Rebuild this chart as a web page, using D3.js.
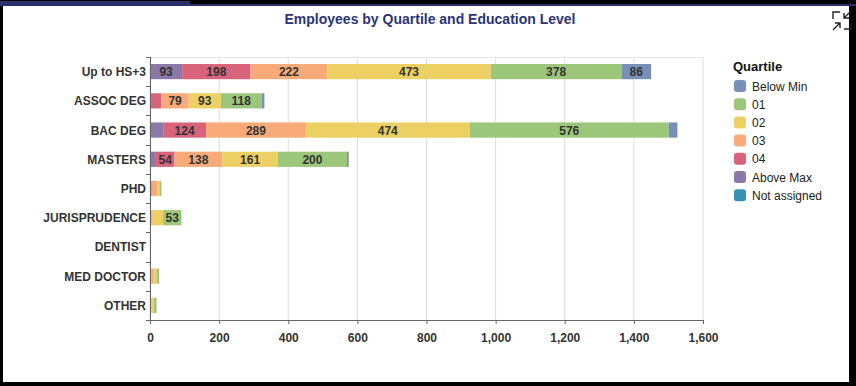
<!DOCTYPE html>
<html>
<head>
<meta charset="utf-8">
<script src="https://cdn.jsdelivr.net/npm/d3@7"></script>
<style>
  html, body { margin: 0; padding: 0; background: #000; }
  svg { display: block; }
</style>
</head>
<body>
<svg id="chart" width="856" height="386"></svg>
<script>
// categories (top to bottom)
const education = ['Up to HS+3', 'ASSOC DEG', 'BAC DEG', 'MASTERS', 'PHD', 'JURISPRUDENCE', 'DENTIST', 'MED DOCTOR', 'OTHER'];

// legend order
const quartiles = ['Below Min', '01', '02', '03', '04', 'Above Max', 'Not assigned'];
const quartileColors = ['#7890b8', '#9cc77a', '#edd063', '#f8aa78', '#d8647b', '#8a78a8', '#3a90b4'];

// series values, one per education level
const belowMin    = [86, 8, 25, 5, 0, 0, 0, 0, 0];
const q01         = [378, 118, 576, 200, 5, 53, 0, 7, 8];
const q02         = [473, 93, 474, 161, 8, 30, 0, 8, 9];
const q03         = [222, 79, 289, 138, 15, 5, 1, 7, 2];
const q04         = [198, 30, 124, 54, 5, 3, 1, 4, 0];
const aboveMax    = [93, 3, 38, 17, 0, 0, 0, 0, 0];
const notAssigned = [0, 0, 0, 0, 0, 0, 0, 0, 0];

const xTicks = [0, 200, 400, 600, 800, 1000, 1200, 1400, 1600];

const seriesByKey = {
  'Below Min': belowMin, '01': q01, '02': q02, '03': q03, '04': q04,
  'Above Max': aboveMax, 'Not assigned': notAssigned
};

const rows = education.map((ed, i) => {
  const r = { education: ed };
  quartiles.forEach(q => r[q] = seriesByKey[q][i]);
  return r;
});

// stack from the left: not assigned, above max, 04 ... below min
const stackKeys = quartiles.slice().reverse();
const color = d3.scaleOrdinal().domain(quartiles).range(quartileColors);

const svg = d3.select('#chart');
const font = 'Arial, "Liberation Sans", sans-serif';

// frame / white panel
svg.append('rect').attr('x', 3).attr('y', 5).attr('width', 846).attr('height', 377).attr('fill', '#fff');
svg.append('rect').attr('x', 0).attr('y', 1).attr('width', 190).attr('height', 5).attr('fill', '#2b2f6b');
svg.append('rect').attr('x', 190).attr('y', 4).attr('width', 666).attr('height', 2).attr('fill', '#2b2f6b');

// title
svg.append('text')
  .attr('x', 430).attr('y', 24)
  .attr('text-anchor', 'middle')
  .attr('font-family', font).attr('font-weight', 'bold').attr('font-size', 14)
  .attr('fill', '#2b3478')
  .text('Employees by Quartile and Education Level');

// collapse icon top right
const icon = svg.append('g').attr('fill', 'none').attr('stroke', '#222').attr('stroke-width', 1.4);
icon.append('path').attr('d', 'M833,19 V12 H840');
icon.append('path').attr('d', 'M851,23 V29 H844');
icon.append('path').attr('d', 'M851,11 L844,18 M844,13 V18 H849');
icon.append('path').attr('d', 'M833,30 L840,23 M840,28 V23 H835');

const margin = { top: 57, left: 150 };
const plotW = 553, plotH = 263;

const x = d3.scaleLinear().domain([0, 1600]).range([margin.left, margin.left + plotW]);
const y = d3.scaleBand().domain(education)
  .range([margin.top, margin.top + plotH])
  .paddingInner(0.48).paddingOuter(0.24);

// gridlines
svg.append('g').selectAll('line').data(xTicks).enter().append('line')
  .attr('x1', d => x(d)).attr('x2', d => x(d))
  .attr('y1', margin.top).attr('y2', margin.top + plotH)
  .attr('stroke', '#dcdcdc');
svg.append('line')
  .attr('x1', margin.left).attr('x2', margin.left + plotW)
  .attr('y1', margin.top + 0.5).attr('y2', margin.top + 0.5)
  .attr('stroke', '#e6e6e6');

// bars
const stacked = d3.stack().keys(stackKeys)(rows);
const layers = svg.append('g').selectAll('g').data(stacked).enter().append('g')
  .attr('fill', d => color(d.key));
layers.selectAll('rect').data(d => d).enter().append('rect')
  .attr('x', d => x(d[0]))
  .attr('y', d => y(d.data.education))
  .attr('width', d => x(d[1]) - x(d[0]))
  .attr('height', y.bandwidth());

// segment labels
const labels = svg.append('g')
  .attr('font-family', font).attr('font-weight', 'bold').attr('font-size', 12)
  .attr('fill', '#333').attr('text-anchor', 'middle');
stacked.forEach(layer => {
  layer.forEach(d => {
    const v = d[1] - d[0];
    const w = x(d[1]) - x(d[0]);
    const tw = String(v).length * 6.7;
    if (v > 0 && w > tw + 3) {
      labels.append('text')
        .attr('x', (x(d[0]) + x(d[1])) / 2)
        .attr('y', y(d.data.education) + y.bandwidth() / 2 + 4.5)
        .text(d3.format(',')(v));
    }
  });
});

// y axis
const yAxis = svg.append('g');
yAxis.append('line')
  .attr('x1', margin.left + 0.5).attr('x2', margin.left + 0.5)
  .attr('y1', margin.top).attr('y2', margin.top + plotH)
  .attr('stroke', '#666');
yAxis.selectAll('.tk').data(d3.range(education.length + 1)).enter().append('line')
  .attr('x1', margin.left - 4).attr('x2', margin.left)
  .attr('y1', i => Math.round(margin.top + i * y.step()) + 0.5)
  .attr('y2', i => Math.round(margin.top + i * y.step()) + 0.5)
  .attr('stroke', '#666');
yAxis.selectAll('text').data(education).enter().append('text')
  .attr('x', margin.left - 4)
  .attr('y', d => y(d) + y.bandwidth() / 2 + 4.5)
  .attr('text-anchor', 'end')
  .attr('font-family', font).attr('font-weight', 'bold').attr('font-size', 12)
  .attr('fill', '#333')
  .text(d => d);

// x axis
const xAxis = svg.append('g')
  .attr('transform', `translate(0,${margin.top + plotH})`)
  .call(d3.axisBottom(x).tickValues(xTicks).tickSize(4).tickSizeOuter(0).tickFormat(d3.format(',')));
xAxis.select('.domain').attr('stroke', '#666').attr('d', `M${margin.left - 3},0.5H${margin.left + plotW}`);
xAxis.selectAll('.tick line').attr('stroke', '#666');
xAxis.selectAll('.tick text')
  .attr('font-family', font).attr('font-weight', 'bold').attr('font-size', 12)
  .attr('fill', '#333').attr('dy', '1.22em');

// legend
const legend = svg.append('g').attr('font-family', font);
legend.append('text')
  .attr('x', 733).attr('y', 71)
  .attr('font-weight', 'bold').attr('font-size', 13).attr('fill', '#111')
  .text('Quartile');
const items = legend.selectAll('.item').data(quartiles).enter().append('g')
  .attr('transform', (d, i) => `translate(734,${86 + i * 18.2})`);
items.append('rect')
  .attr('x', 0).attr('y', -6).attr('width', 12).attr('height', 12).attr('rx', 3)
  .attr('fill', d => color(d));
items.append('text')
  .attr('x', 18).attr('y', 4.5)
  .attr('font-size', 12).attr('fill', '#222')
  .text(d => d);
</script>
</body>
</html>
